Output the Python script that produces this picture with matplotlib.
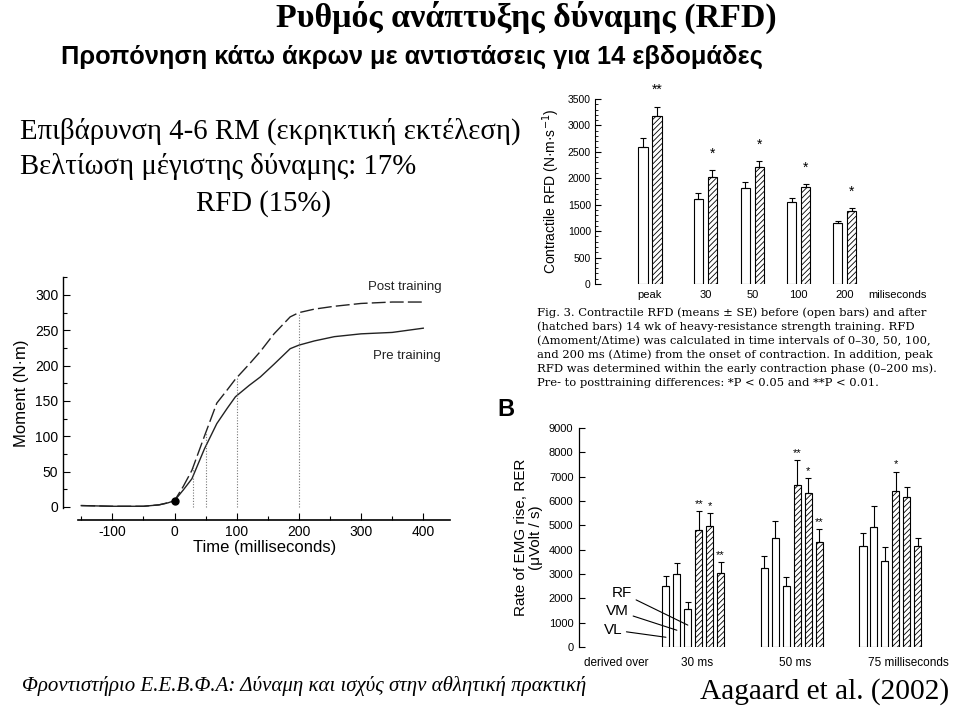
import matplotlib
matplotlib.use('Agg')
import matplotlib.pyplot as plt
import numpy as np
from matplotlib.ticker import MultipleLocator

plt.rcParams['hatch.linewidth'] = 0.6
plt.rcParams['axes.unicode_minus'] = False
SANS = ['Liberation Sans', 'DejaVu Sans']
SERIF = ['Liberation Serif', 'DejaVu Serif']

# ---------------- data ----------------
# Panel: contractile RFD (top right)
rfd_categories = ['peak', '30', '50', '100', '200']
rfd_pre = [2600, 1600, 1810, 1550, 1150]
rfd_pre_se = [170, 130, 115, 75, 45]
rfd_post = [3180, 2025, 2205, 1830, 1385]
rfd_post_se = [175, 125, 115, 60, 50]
rfd_sig = ['**', '*', '*', '*', '*']

# Panel: moment-time curves (left)
moment_time = [-150, -100, -50, -25, -10, 0, 14, 28, 48, 68, 85, 98, 120, 138,
               160, 186, 200, 225, 257, 300, 350, 400]
moment_pre = [2, 1, 1, 3, 6, 9, 24, 40, 82, 118, 140, 156, 172, 184,
              202, 224, 229, 235, 241, 245, 247, 253]
moment_post = [2, 1, 1, 3, 6, 9, 29, 52, 100, 147, 166, 181, 202, 220,
               245, 269, 275, 280, 284, 288, 290, 290]
interval_marks = [30, 50, 100, 200]
onset_point = (0, 9)

# Panel B: rate of EMG rise (bottom right)
emg_windows = ['30 ms', '50 ms', '75 milliseconds']
emg_muscles = ['VL', 'VM', 'RF']
emg_pre = [[2500, 2995, 1550], [3255, 4490, 2500], [4160, 4920, 3545]]
emg_pre_se = [[410, 465, 300], [485, 700, 385], [540, 880, 550]]
emg_post = [[4810, 4990, 3050], [6660, 6320, 4300], [6415, 6155, 4160]]
emg_post_se = [[780, 500, 425], [1005, 630, 550], [795, 435, 330]]
emg_sig = [['**', '*', '**'], ['**', '*', '**'], ['*', '', '']]

# ---------------- figure ----------------
W, H = 960, 709
fig = plt.figure(figsize=(W / 100, H / 100), dpi=100)
fig.patch.set_facecolor('white')


def ax_px(x0, y0, x1, y1):
    return fig.add_axes([x0 / W, 1 - y1 / H, (x1 - x0) / W, (y1 - y0) / H])


def ftext(x, y, s, **kw):
    fig.text(x / W, 1 - y / H, s, **kw)


# ---------- slide texts ----------
ftext(526, 17, 'Ρυθμός ανάπτυξης δύναμης (RFD)', ha='center', va='center',
      family=SERIF, fontweight='bold', fontsize=24.5)
ftext(412, 57, 'Προπόνηση κάτω άκρων με αντιστάσεις για 14 εβδομάδες',
      ha='center', va='center', family=SANS, fontweight='bold', fontsize=18.3)
ftext(20, 131, 'Επιβάρυνση 4-6 RM (εκρηκτική εκτέλεση)', ha='left', va='center',
      family=SERIF, fontsize=20.7)
ftext(20, 166, 'Βελτίωση μέγιστης δύναμης: 17%', ha='left', va='center',
      family=SERIF, fontsize=20.7)
ftext(263, 204, 'RFD (15%)', ha='center', va='center', family=SERIF, fontsize=20.7)
ftext(22, 686, 'Φροντιστήριο Ε.Ε.Β.Φ.Α: Δύναμη και ισχύς στην αθλητική πρακτική',
      ha='left', va='center', family=SERIF, style='italic', fontsize=15)
ftext(825, 692, 'Aagaard et al. (2002)', ha='center', va='center', family=SERIF,
      fontsize=21.2)

caption = ('Fig. 3. Contractile RFD (means ± SE) before (open bars) and after\n'
           '(hatched bars) 14 wk of heavy-resistance strength training. RFD\n'
           '(Δmoment/Δtime) was calculated in time intervals of 0–30, 50, 100,\n'
           'and 200 ms (Δtime) from the onset of contraction. In addition, peak\n'
           'RFD was determined within the early contraction phase (0–200 ms).\n'
           'Pre- to posttraining differences: *P < 0.05 and **P < 0.01.')
ftext(537, 307, caption, ha='left', va='top', family=['DejaVu Serif'],
      fontsize=8.25, linespacing=1.43)

# ---------- panel 1: contractile RFD ----------
ax1 = ax_px(595, 99, 935, 284)
pos1 = np.array([0, 1.19, 2.20, 3.19, 4.18])
bw = 0.2
ax1.bar(pos1 - 0.15, rfd_pre, bw, color='white', edgecolor='black', linewidth=0.8)
ax1.bar(pos1 + 0.15, rfd_post, bw, color='white', edgecolor='black', linewidth=0.8,
        hatch='//////')
ax1.errorbar(pos1 - 0.15, rfd_pre, yerr=[np.zeros(5), rfd_pre_se], fmt='none',
             ecolor='black', elinewidth=0.8, capsize=2.5, capthick=0.8)
ax1.errorbar(pos1 + 0.15, rfd_post, yerr=[np.zeros(5), rfd_post_se], fmt='none',
             ecolor='black', elinewidth=0.8, capsize=2.5, capthick=0.8)
for p, v, se, s in zip(pos1, rfd_post, rfd_post_se, rfd_sig):
    ax1.annotate(s, (p + 0.15, v + se), xytext=(0, 9), textcoords='offset points',
                 ha='center', va='baseline', fontsize=10, family=SANS,
                 annotation_clip=False)
ax1.set_xlim(-1.18, 6.12)
ax1.set_ylim(0, 3500)
ax1.set_xticks(pos1)
ax1.set_xticklabels(rfd_categories, family=SANS, fontsize=8)
ax1.tick_params(axis='x', length=0, pad=4)
ax1.yaxis.set_major_locator(MultipleLocator(500))
ax1.yaxis.set_minor_locator(MultipleLocator(100))
ax1.tick_params(axis='y', which='major', direction='in', length=4, width=0.8,
                labelsize=7.5, pad=3)
ax1.tick_params(axis='y', which='minor', direction='in', length=2, width=0.6)
for lab in ax1.get_yticklabels():
    lab.set_family(SANS)
for sp in ['top', 'right', 'bottom']:
    ax1.spines[sp].set_visible(False)
ax1.spines['left'].set_linewidth(0.8)
ax1.text(5.32, -11 / 185, 'miliseconds', transform=ax1.get_xaxis_transform(),
         ha='center', va='center', family=SANS, fontsize=8)
ax1.set_ylabel('Contractile RFD (N·m·s$^{-1}$)', family=SANS, fontsize=10,
               labelpad=4)

# ---------- panel 2: moment curves ----------
ax2 = ax_px(80, 277.3, 450, 508.4)
ax2.plot(moment_time, moment_pre, color='#222222', lw=1.0)
ax2.plot(moment_time, moment_post, color='#222222', lw=1.0, dashes=(10, 3))
ax2.plot([onset_point[0]], [onset_point[1]], 'o', color='black', ms=5)
tops = np.interp(interval_marks, moment_time, moment_post)
ax2.vlines(interval_marks, 0, tops, colors='#777777', linestyles=(0, (1, 1.5)),
           lw=0.8)
ax2.text(311, 311, 'Post training', ha='left', va='center', family=SANS,
         fontsize=9.5, color='#222222')
ax2.text(319, 214, 'Pre training', ha='left', va='center', family=SANS,
         fontsize=9.5, color='#222222')
ax2.set_xlim(-152, 443)
ax2.set_ylim(-2, 325)
for sp in ['top', 'right']:
    ax2.spines[sp].set_visible(False)
ax2.spines['left'].set_position(('outward', 12.2))
ax2.spines['bottom'].set_position(('outward', 8.3))
ax2.spines['left'].set_linewidth(1.0)
ax2.spines['bottom'].set_linewidth(1.2)
ax2.spines['bottom'].set_bounds(-155, 443)
ax2.set_xticks([-100, 0, 100, 200, 300, 400])
ax2.xaxis.set_minor_locator(MultipleLocator(50))
ax2.set_yticks([0, 50, 100, 150, 200, 250, 300])
ax2.yaxis.set_minor_locator(MultipleLocator(25))
ax2.tick_params(which='both', direction='in', width=0.8, labelsize=10)
ax2.tick_params(which='major', length=5)
ax2.tick_params(which='minor', length=3)
for lab in ax2.get_xticklabels() + ax2.get_yticklabels():
    lab.set_family(SANS)
ax2.set_xlabel('Time (milliseconds)', family=SANS, fontsize=12, labelpad=1)
ax2.set_ylabel('Moment (N·m)', family=SANS, fontsize=12, labelpad=4)

# ---------- panel 3: EMG rise ----------
ax3 = ax_px(579, 428, 950, 647)
step = 0.111
bw3 = 0.072
for g in range(3):
    for m in range(3):
        xo = g + (m - 2.5) * step
        xh = g + (m + 3 - 2.5) * step
        ax3.bar(xo, emg_pre[g][m], bw3, color='white', edgecolor='black', lw=0.8)
        ax3.errorbar(xo, emg_pre[g][m], yerr=[[0], [emg_pre_se[g][m]]], fmt='none',
                     ecolor='black', elinewidth=0.8, capsize=2, capthick=0.8)
        ax3.bar(xh, emg_post[g][m], bw3, color='white', edgecolor='black', lw=0.8,
                hatch='//////')
        ax3.errorbar(xh, emg_post[g][m], yerr=[[0], [emg_post_se[g][m]]],
                     fmt='none', ecolor='black', elinewidth=0.8, capsize=2,
                     capthick=0.8)
        if emg_sig[g][m]:
            ax3.annotate(emg_sig[g][m], (xh, emg_post[g][m] + emg_post_se[g][m]),
                         xytext=(0, 3), textcoords='offset points', ha='center',
                         va='baseline', fontsize=8, family=SANS,
                         annotation_clip=False)
# muscle labels with leader lines (first window, open bars)
label_xy = {'RF': (-0.724, 2220), 'VM': (-0.768, 1480), 'VL': (-0.815, 700)}
target_y = {'RF': 0.58, 'VM': 0.23, 'VL': 0.16}
for m, name in enumerate(emg_muscles):
    xo = 0 + (m - 2.5) * step
    ax3.annotate(name, (xo, emg_pre[0][m] * target_y[name]), xytext=label_xy[name],
                 textcoords='data', ha='center', va='center', family=SANS,
                 fontsize=11,
                 arrowprops=dict(arrowstyle='-', lw=0.8, color='black',
                                 shrinkA=1, shrinkB=0))
ax3.set_xlim(-1.160, 2.606)
ax3.set_ylim(0, 9000)
ax3.set_xticks([-0.785, 0.04, 1.03, 1.774])
ax3.set_xticklabels(['derived over'] + emg_windows, family=SANS, fontsize=8.5)
ax3.get_xticklabels()[-1].set_horizontalalignment('left')
ax3.tick_params(axis='x', length=0, pad=7)
ax3.yaxis.set_major_locator(MultipleLocator(1000))
ax3.tick_params(axis='y', direction='in', length=4, width=0.8, labelsize=8, pad=4)
for lab in ax3.get_yticklabels():
    lab.set_family(SANS)
for sp in ['top', 'right', 'bottom']:
    ax3.spines[sp].set_visible(False)
ax3.spines['left'].set_linewidth(0.9)
ax3.set_ylabel('Rate of EMG rise, RER\n(μVolt / s)', family=SANS, fontsize=11,
               labelpad=4, linespacing=1.15)
ftext(506, 410, 'B', ha='center', va='center', family=SANS, fontweight='bold',
      fontsize=17)

fig.savefig('out.png', dpi=100, facecolor='white')
